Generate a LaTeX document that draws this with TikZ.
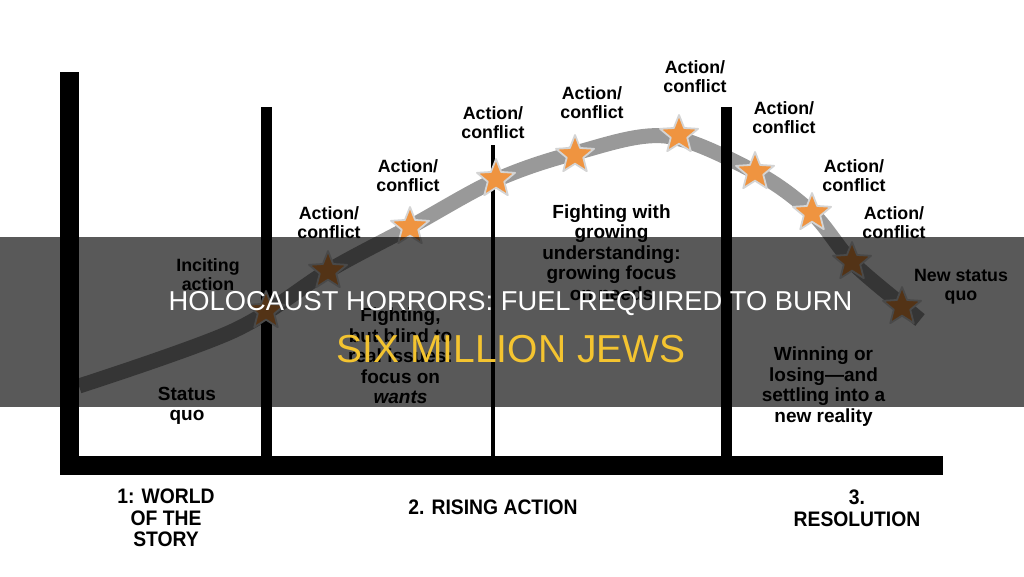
\documentclass[tikz,border=0pt]{standalone}
\usepackage{fontspec}
\setmainfont{Liberation Sans}
\newfontfamily\narrowfont[FakeStretch=0.92]{Liberation Sans}
\usetikzlibrary{shapes.geometric}
\definecolor{arcgray}{HTML}{999999}
\definecolor{starorange}{HTML}{EF9440}
\definecolor{staredge}{HTML}{D4D4D4}
\definecolor{titleyellow}{HTML}{F4C430}

\begin{document}
\begin{tikzpicture}[x=1pt,y=-1pt,line join=round,
  lab/.style={font=\fontsize{17.8}{19}\selectfont\bfseries,align=center,inner sep=0pt},
  body/.style={font=\fontsize{19}{20.4}\selectfont\bfseries,align=center,inner sep=0pt},
  phase/.style={font=\narrowfont\fontsize{21}{21.5}\selectfont\bfseries,align=center,inner sep=0pt},
  beat/.style={star,star points=5,star point ratio=2.3,minimum size=40pt,inner sep=0pt,
    fill=starorange,draw=staredge,line width=1.8pt}]
\path[use as bounding box] (0,0) rectangle (1024,576);
\fill[white] (0,0) rectangle (1024,576);

% the story arc
\draw[arcgray,line width=15pt] plot[smooth,tension=0.55] coordinates {(79,386) (233,331) (328,271)
  (410,227) (496,180) (575,153) (665,136) (755,172) (812,213) (852,262) (902,305) (920,320)};

% frame and phase dividers
\fill[black] (60,72) rectangle (79,475);
\fill[black] (60,456) rectangle (943,475);
\fill[black] (261,107) rectangle (272,456);
\fill[black] (491,145) rectangle (495,456);
\fill[black] (721,107) rectangle (732,456);

% beats on the arc
\foreach \x/\y [count=\i] in {266/311,328/271,410/227,496/179,575/155,679/135,755/172,812/213,852/262,902/307}
  \node[beat] (beat\i) at (\x,\y) {};

\foreach \x/\y [count=\i from 2] in {329/222.5,408/176,493/123,592/102.5,695/77,784/118,854/176,894/222.5}
  \node[lab] (act\i) at (\x,\y) {Action/\\conflict};
\node[lab] (inciting) at (208,275) {Inciting\\action};
\node[lab] (newquo) at (961,286.5) {New status\\quo};
\node[body] (oldquo) at (187,406) {Status\\quo};
\node[body] (blind) at (400.5,356) {Fighting,\\but blind to\\real issues:\\focus on\\\textit{wants}};
\node[body] (growing) at (611.5,252.5) {Fighting with\\growing\\understanding:\\growing focus\\on needs};
\node[body] (winning) at (823.5,386.5) {Winning or\\losing---and\\settling into a\\new reality};

% phase names under the frame
\node[phase] (world) at (166,518) {1: WORLD\\OF THE\\STORY};
\node[phase] (rising) at (493,507) {2. RISING ACTION};
\node[phase] (resolution) at (857,508.5) {3.\\RESOLUTION};

% caption band over the middle
\fill[black,opacity=0.65] (0,237) rectangle (1024,407);
\node[anchor=base,font=\fontsize{27.3}{30}\selectfont,text=white] (title) at (510.5,310) {HOLOCAUST HORRORS: FUEL REQUIRED TO BURN};
\node[anchor=base,font=\fontsize{39}{42}\selectfont,text=titleyellow] (subtitle) at (511,362) {SIX MILLION JEWS};
\end{tikzpicture}
\end{document}
